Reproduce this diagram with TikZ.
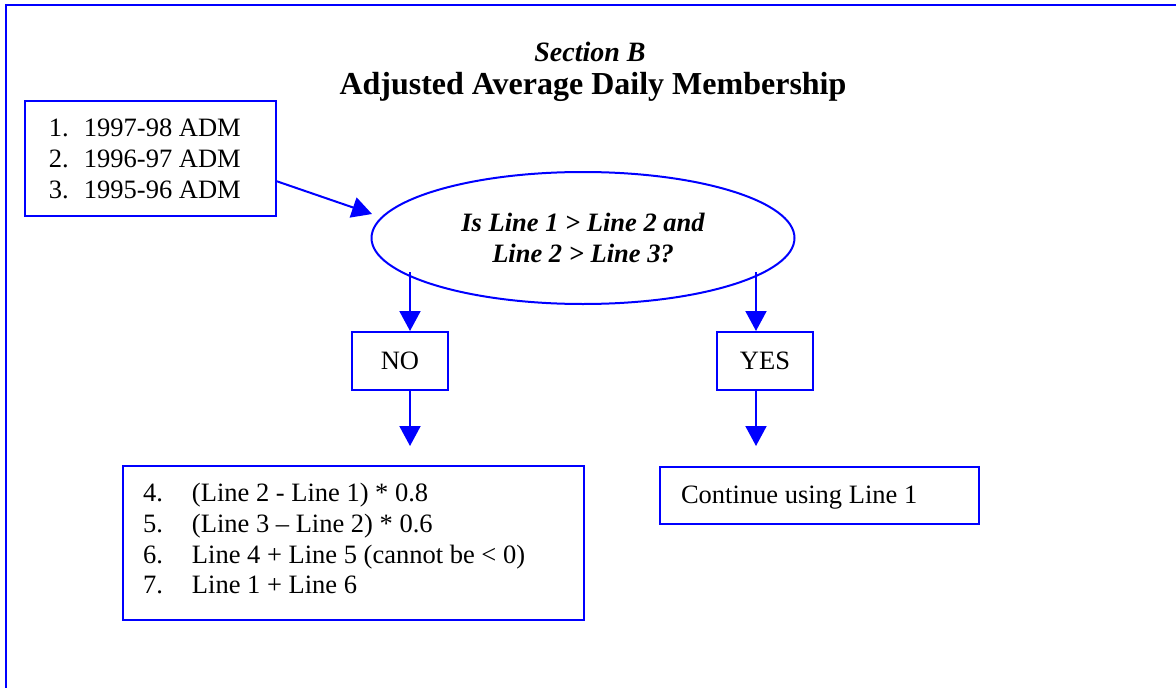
\documentclass[tikz,border=0pt]{standalone}
\usepackage{fontspec}
\setmainfont{Liberation Serif}
\usetikzlibrary{arrows.meta,shapes.geometric}
\definecolor{frameblue}{RGB}{0,0,255}
\newcommand{\bxtext}[5]{\begin{minipage}[t][#2][t]{#1}\fontsize{26.5}{30.8}\selectfont\vspace*{#3}\leftskip=#4\relax\parindent=0pt #5\end{minipage}}
\begin{document}
\begin{tikzpicture}[x=1pt,y=-1pt,
  boxstyle/.style={draw=frameblue,line width=2pt,inner sep=0pt,anchor=north west},
  smallbox/.style={draw=frameblue,line width=2pt,minimum width=96pt,minimum height=58pt,inner sep=0pt,font=\fontsize{26.5}{31}\selectfont},
  flowarrow/.style={draw=frameblue,line width=2pt,-{Triangle[length=20pt,width=21pt]}}]
\useasboundingbox (0,0) rectangle (1176,688);
% outer frame (left and top edges)
\draw[frameblue,line width=2pt] (6,700) -- (6,5) -- (1190,5);
% titles
\node[font=\fontsize{28}{34}\selectfont\bfseries\itshape] (sec) at (590,52) {Section B};
\node[font=\fontsize{32}{38}\selectfont\bfseries] (title) at (593,87) {Adjusted Average Daily Membership};
% box 1
\node[boxstyle] (box1) at (24,100) {\bxtext{251pt}{115pt}{14pt}{24pt}{%
\strut\makebox[35pt][l]{1.}1997-98 ADM\par
\strut\makebox[35pt][l]{2.}1996-97 ADM\par
\strut\makebox[35pt][l]{3.}1995-96 ADM\par}};
% decision ellipse
\node[ellipse,draw=frameblue,line width=2pt,minimum width=423pt,minimum height=132pt,inner sep=0pt,
  align=center,font=\fontsize{26.5}{31}\selectfont\bfseries\itshape] (ell) at (583,238)
  {Is Line 1 > Line 2 and\\Line 2 > Line 3?};
% NO / YES
\node[smallbox] (no) at (400,361) {NO};
\node[smallbox] (yes) at (765,361) {YES};
% calc box
\node[boxstyle] (calc) at (122,465) {\bxtext{461pt}{154pt}{14pt}{20pt}{%
\strut\makebox[49pt][l]{4.}(Line 2 - Line 1) * 0.8\par
\strut\makebox[49pt][l]{5.}(Line 3 – Line 2) * 0.6\par
\strut\makebox[49pt][l]{6.}Line 4 + Line 5 (cannot be < 0)\par
\strut\makebox[49pt][l]{7.}Line 1 + Line 6\par}};
% continue box
\node[boxstyle] (cont) at (659,466) {\bxtext{319pt}{57pt}{15pt}{21pt}{%
\strut Continue using Line 1\par}};
% connector end points
\coordinate (a1) at (276,181);
\coordinate (a1tip) at (372,214);
\coordinate (lstart) at (410,272);
\coordinate (rstart) at (756,272);
\coordinate (ltip) at (410,446);
\coordinate (rtip) at (756,446);
% connectors
\draw[flowarrow] (a1) -- (a1tip);
\draw[flowarrow] (lstart) -- (lstart |- no.north);
\draw[flowarrow] (rstart) -- (rstart |- yes.north);
\draw[flowarrow] (lstart |- no.south) -- (ltip);
\draw[flowarrow] (rstart |- yes.south) -- (rtip);
\end{tikzpicture}
\end{document}
